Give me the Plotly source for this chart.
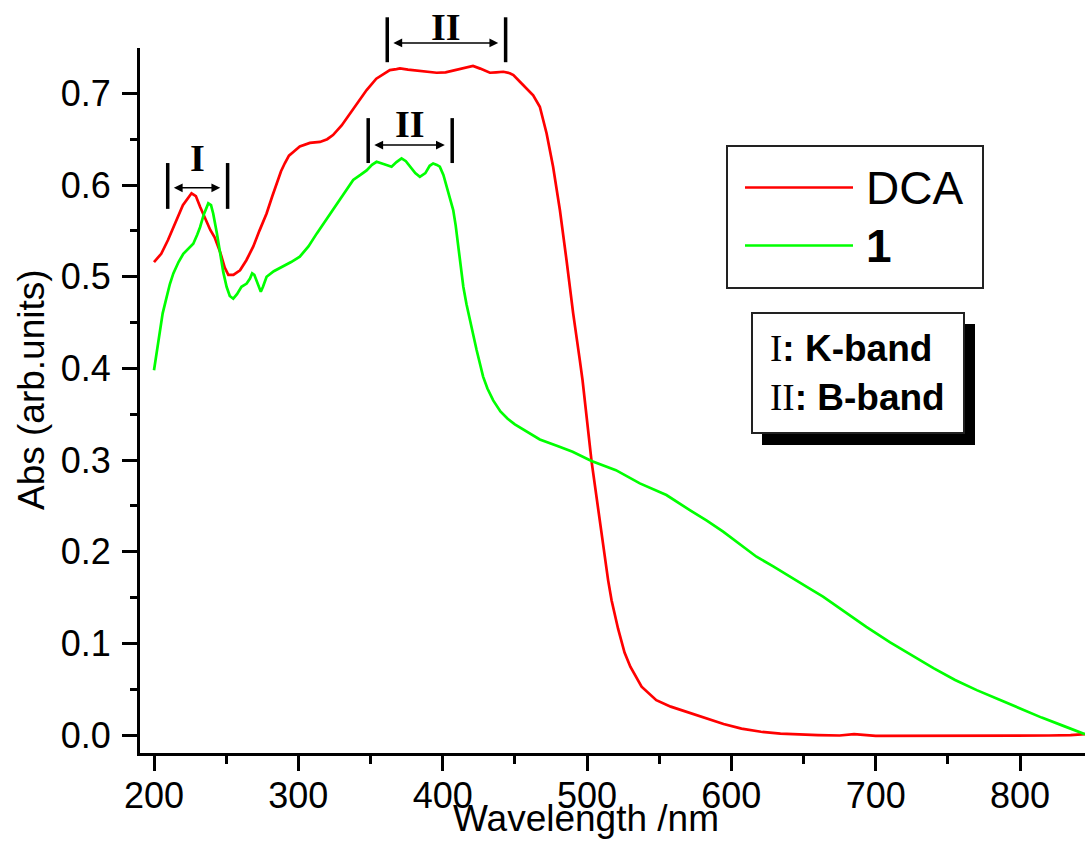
import plotly.graph_objects as go

# ---------------- data ----------------
series_names = ["DCA", "1"]

dca_wl = [200, 205, 209.7, 215, 220, 226, 229, 232, 235, 239, 242, 246, 249, 251.5, 255,
          259.6, 264, 268.8, 273, 278, 282, 285, 288, 290.7, 293.5, 296.5, 301, 308, 315,
          320, 324, 330, 335.7, 341, 347.3, 354, 361, 363.4, 368, 370.4, 376, 382, 389,
          395.8, 402, 409.6, 415, 421, 426, 432.7, 437, 442, 446.5, 449, 453.5, 458,
          462.7, 467.3, 470, 472, 476.5, 481.2, 485.8, 490.4, 495, 496.9, 503.1, 508.9,
          514.6, 517, 521.5, 526, 530, 537.8, 548, 558, 568.8, 580, 594.6, 607, 620.5,
          634, 646, 660, 675, 685, 700, 720, 750, 780, 800, 820, 835, 845]
dca_abs = [0.516, 0.525, 0.540, 0.560, 0.578, 0.591, 0.588, 0.576, 0.565, 0.551, 0.543,
           0.526, 0.510, 0.502, 0.502, 0.507, 0.518, 0.533, 0.550, 0.569, 0.588, 0.602,
           0.615, 0.624, 0.632, 0.636, 0.642, 0.646, 0.647, 0.650, 0.6545, 0.665, 0.678,
           0.690, 0.7036, 0.716, 0.7236, 0.7254, 0.7265, 0.7272, 0.726, 0.7247, 0.724,
           0.7225, 0.723, 0.726, 0.728, 0.730, 0.727, 0.7225, 0.723, 0.7236, 0.722, 0.720,
           0.7127, 0.706, 0.698, 0.6854, 0.668, 0.6563, 0.620, 0.5727, 0.518, 0.460,
           0.409, 0.387, 0.299, 0.231, 0.169, 0.147, 0.116, 0.090, 0.0745, 0.0527, 0.038,
           0.031, 0.0254, 0.019, 0.012, 0.007, 0.0036, 0.0015, 0.0005, 0.0, -0.0005,
           0.001, -0.001, -0.001, -0.0012, -0.001, -0.0008, -0.0005, 0.0, 0.001]

c1_wl = [200, 203, 206, 208.8, 211, 213.4, 217, 220.3, 224, 227.2, 230, 231.9, 234.5,
         237.6, 239.5, 241, 243.5, 245.7, 248, 250.3, 252.5, 254.9, 257.5, 260.6, 264.2,
         266.5, 268, 269.5, 271, 273, 274, 275.5, 278, 283, 289.5, 295, 301, 307, 312.7,
         318, 324, 331, 338, 343, 347.3, 351, 354.2, 359, 364.6, 368, 371.5, 374.5,
         377.3, 381, 384.2, 388, 391, 393.4, 396, 398, 400.5, 402.7, 405, 407.3, 409,
         410.8, 412.5, 414.3, 416.5, 418.8, 421, 423.5, 426, 428, 431, 435, 440, 445,
         450, 455, 460, 467.3, 480, 490, 503.1, 520, 536.6, 555, 571.2, 583, 594.3, 605,
         617.4, 629, 640.4, 652, 663.5, 678, 693.5, 710, 725, 740, 755, 770, 785, 800,
         815, 830, 845]
c1_abs = [0.398, 0.430, 0.460, 0.478, 0.492, 0.5036, 0.516, 0.525, 0.531, 0.536, 0.546,
          0.554, 0.568, 0.580, 0.578, 0.569, 0.548, 0.525, 0.505, 0.489, 0.479, 0.476,
          0.481, 0.489, 0.4925, 0.498, 0.5036, 0.502, 0.496, 0.486, 0.4836, 0.489, 0.500,
          0.506, 0.511, 0.516, 0.5218, 0.533, 0.547, 0.559, 0.5727, 0.589, 0.6055, 0.611,
          0.616, 0.622, 0.6254, 0.623, 0.620, 0.625, 0.629, 0.626, 0.620, 0.613, 0.609,
          0.613, 0.621, 0.6236, 0.622, 0.620, 0.611, 0.598, 0.5836, 0.5727, 0.556, 0.533,
          0.510, 0.489, 0.470, 0.4527, 0.436, 0.420, 0.404, 0.391, 0.378, 0.365, 0.353,
          0.345, 0.339, 0.334, 0.329, 0.3225, 0.315, 0.309, 0.2989, 0.289, 0.2745, 0.2618,
          0.2454, 0.234, 0.2218, 0.209, 0.1945, 0.184, 0.1727, 0.162, 0.151, 0.135, 0.118,
          0.101, 0.087, 0.073, 0.060, 0.049, 0.039, 0.029, 0.019, 0.010, 0.001]

x_ticks = [200, 300, 400, 500, 600, 700, 800]
y_ticks = [0.0, 0.1, 0.2, 0.3, 0.4, 0.5, 0.6, 0.7]

# band brackets: (label, left wl, right wl, bar bottom, bar top, arrow level, label level)
brackets = [
    ("I", 209.5, 251.0, 0.574, 0.624, 0.597, 0.630),
    ("II", 361.6, 443.6, 0.734, 0.783, 0.755, 0.772),
    ("II", 348.4, 406.6, 0.624, 0.673, 0.6436, 0.667),
]
band_notes = [("I", "K-band"), ("II", "B-band")]

# ---------------- layout constants ----------------
W, H = 1085, 850
ML, MR, MT, MB = 140, 0, 48, 97
XR = [190.3, 845.0]
YR = [-0.0196, 0.7495]
PW, PH = W - ML - MR, H - MT - MB
SANS = "Liberation Sans, Arial, sans-serif"
SERIF = "Liberation Serif, Times New Roman, serif"


def xp(wl):
    return (wl - XR[0]) / (XR[1] - XR[0])


def yp(v):
    return (v - YR[0]) / (YR[1] - YR[0])


def px(x):
    return (x - ML) / PW


def py(y):
    return (H - MB - y) / PH


px_per_nm = PW / (XR[1] - XR[0])

fig = go.Figure()
fig.add_trace(go.Scatter(x=dca_wl, y=dca_abs, mode="lines", name=series_names[0],
                         line=dict(color="#ff0000", width=2.7), showlegend=False))
fig.add_trace(go.Scatter(x=c1_wl, y=c1_abs, mode="lines", name=series_names[1],
                         line=dict(color="#00ff00", width=2.7), showlegend=False))

shapes = []
annotations = []

# brackets
for label, xl, xr, yb, yt, ya, yl in brackets:
    for xx in (xl, xr):
        shapes.append(dict(type="line", xref="paper", yref="paper",
                           x0=xp(xx), x1=xp(xx), y0=yp(yb), y1=yp(yt),
                           line=dict(color="black", width=3.5)))
    gap = 3.2
    a0, a1 = xl + gap, xr - gap * 1.6
    annotations.append(dict(xref="paper", yref="paper", x=xp(a1), y=yp(ya),
                            ax=-(a1 - a0) * px_per_nm, ay=0, axref="pixel", ayref="pixel",
                            text="", showarrow=True, arrowhead=2, startarrowhead=2,
                            arrowside="end+start", arrowsize=1.1, startarrowsize=1.1,
                            arrowwidth=1.6, arrowcolor="black", standoff=0, startstandoff=0))
    annotations.append(dict(xref="paper", yref="paper", x=xp((xl + xr) / 2), y=yp(yl),
                            text="<b>%s</b>" % label, showarrow=False,
                            xanchor="center", yanchor="middle",
                            font=dict(family=SERIF, size=38, color="black")))

# manual legend
shapes.append(dict(type="rect", xref="paper", yref="paper",
                   x0=px(727), x1=px(983), y0=py(146), y1=py(288),
                   line=dict(color="#222222", width=2), fillcolor="white"))
leg_colors = ["#ff0000", "#00ff00"]
leg_y = [187.5, 245.5]
leg_text = [series_names[0], "<b>%s</b>" % series_names[1]]
for c, yy, t in zip(leg_colors, leg_y, leg_text):
    shapes.append(dict(type="line", xref="paper", yref="paper",
                       x0=px(745), x1=px(853), y0=py(yy), y1=py(yy),
                       line=dict(color=c, width=2.5)))
    annotations.append(dict(xref="paper", yref="paper", x=px(864), y=py(yy),
                            text=t, showarrow=False, xanchor="left", yanchor="middle",
                            font=dict(family=SANS, size=46, color="black")))

# band notes box with shadow
shapes.append(dict(type="rect", xref="paper", yref="paper",
                   x0=px(762), x1=px(975), y0=py(324), y1=py(445),
                   line=dict(color="black", width=0), fillcolor="black"))
shapes.append(dict(type="rect", xref="paper", yref="paper",
                   x0=px(752), x1=px(964), y0=py(313), y1=py(433),
                   line=dict(color="#222222", width=2), fillcolor="white"))
for (num, name), yy in zip(band_notes, [349, 397]):
    annotations.append(dict(xref="paper", yref="paper", x=px(768), y=py(yy),
                            text='<span style="font-family:Liberation Serif">%s</span><b>: %s</b>' % (num, name),
                            showarrow=False, xanchor="left", yanchor="middle",
                            font=dict(family=SANS, size=37, color="black")))

# axis titles
annotations.append(dict(xref="paper", yref="paper", x=px(586), y=py(819),
                        text="Wavelength /nm", showarrow=False, xanchor="center",
                        yanchor="middle", font=dict(family=SANS, size=37, color="black")))
annotations.append(dict(xref="paper", yref="paper", x=px(31), y=py(390),
                        text="Abs (arb.units)", showarrow=False, textangle=-90,
                        xanchor="center", yanchor="middle",
                        font=dict(family=SANS, size=37, color="black")))

fig.update_layout(
    width=W, height=H,
    margin=dict(l=ML, r=MR, t=MT, b=MB, pad=0),
    plot_bgcolor="white", paper_bgcolor="white",
    shapes=shapes, annotations=annotations,
    showlegend=False,
    font=dict(family=SANS, color="black"),
)
fig.update_xaxes(range=XR, tickvals=x_ticks, ticktext=[str(v) for v in x_ticks],
                 showgrid=False, zeroline=False, showline=True, linecolor="black",
                 linewidth=3, ticks="outside", ticklen=15, tickwidth=2.5, tickcolor="black",
                 tickfont=dict(family=SANS, size=36, color="black"),
                 ticklabelstandoff=-6,
                 minor=dict(dtick=50, tick0=0, ticks="outside", ticklen=8, tickwidth=2.5,
                            tickcolor="black", showgrid=False))
fig.update_yaxes(range=YR, tickvals=y_ticks, ticktext=["%.1f" % v for v in y_ticks],
                 showgrid=False, zeroline=False, showline=True, linecolor="black",
                 linewidth=3, ticks="outside", ticklen=15, tickwidth=2.5, tickcolor="black",
                 tickfont=dict(family=SANS, size=36, color="black"),
                 ticklabelstandoff=4,
                 minor=dict(dtick=0.05, tick0=0, ticks="outside", ticklen=7, tickwidth=2.5,
                            tickcolor="black", showgrid=False))

fig.write_html("out.html")
